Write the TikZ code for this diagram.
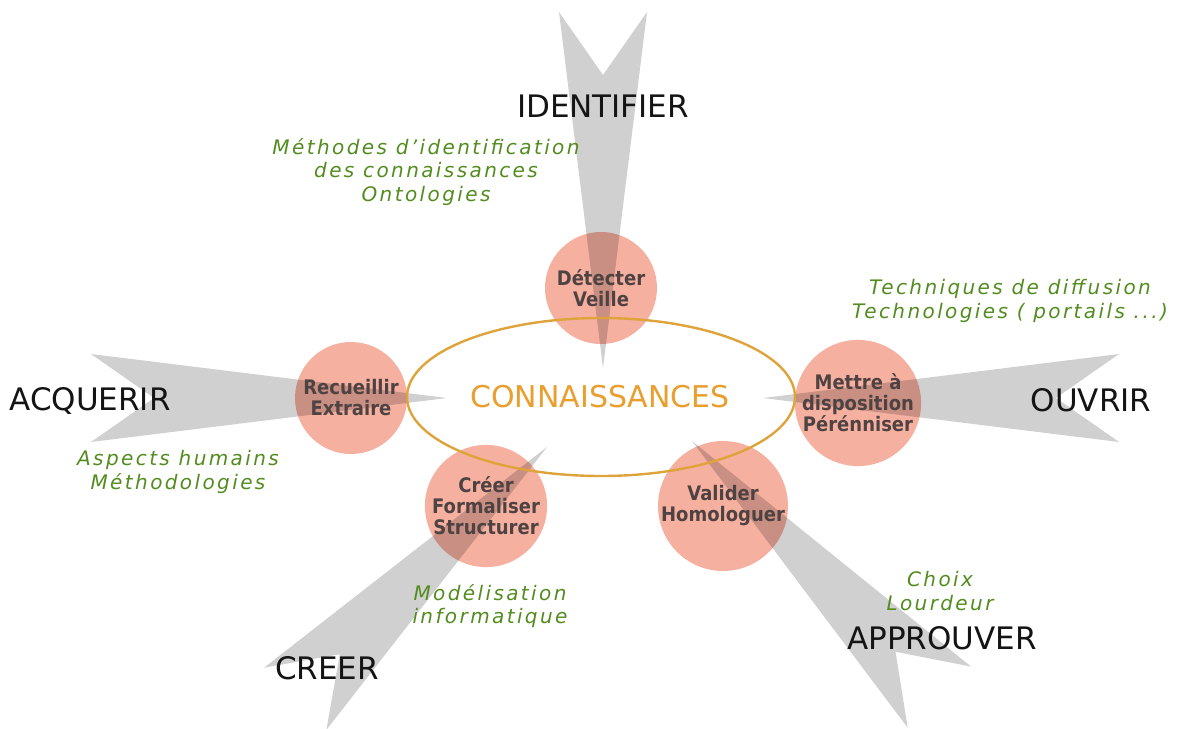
\documentclass[tikz,border=0pt]{standalone}
\usepackage{fontspec}
\setmainfont{DejaVu Sans}
\newfontfamily\notefont[LetterSpace=12]{DejaVu Sans}
\newfontfamily\cerclefont[FakeStretch=0.9]{DejaVu Sans}

\definecolor{saumon}{RGB}{246,176,160}
\definecolor{gris}{RGB}{208,208,208}
\definecolor{orsombre}{RGB}{222,163,58}
\definecolor{orconn}{RGB}{233,158,45}
\definecolor{vertnote}{RGB}{82,140,30}
\definecolor{brun}{RGB}{78,66,66}
\definecolor{encre}{RGB}{20,20,20}

\tikzset{every picture/.style={line width=0.75pt},
  fleche/.style={fill=gris, draw=none},
  bulle/.style={circle, preaction={fill=saumon, blend mode=multiply}, minimum size=84pt, inner sep=0pt,
    text=brun, align=center, font=\cerclefont\bfseries\fontsize{15}{15.75}\selectfont},
  verbe/.style={text=encre, anchor=base, inner sep=0.75pt, font=\fontsize{23.25}{26}\selectfont},
  conn/.style={anchor=base, inner sep=0.75pt, text=orconn, font=\fontsize{22.5}{26}\selectfont},
  note/.style={text=vertnote, align=center, inner sep=0.75pt, font=\notefont\itshape\fontsize{15}{17.5}\selectfont}}

\begin{document}
\begin{tikzpicture}[x=0.75pt,y=0.75pt,yscale=-1]
\useasboundingbox (0,0) rectangle (1187,728);

%Shape: Arrows
\foreach \tipx/\tipy/\ang in {603/368/-90, 447/398/180, 763/398/0, 547/447/135, 692/441/46}
  \fill [fleche, shift={(\tipx,\tipy)}, rotate=\ang] (0,0) -- (356,-44) -- (293,0) -- (356,44) -- cycle ;

%Shape: Circle
\node [bulle] (detecter) at (601,288) {Détecter\\Veille};
%Shape: Circle
\node [bulle] (recueillir) at (351,398) {Recueillir\\Extraire};
%Shape: Circle
\node [bulle] (mettre) at (858,403) {Mettre à\\disposition\\Pérénniser};
%Shape: Circle
\node [bulle] (creer) at (486,506) {Créer\\Formaliser\\Structurer};
%Shape: Circle
\node [bulle] (valider) at (723,506) {Valider\\Homologuer};

%Shape: Ellipse
\draw [draw=orsombre, line width=1.8pt] (601,397) ellipse [x radius=194, y radius=79];

% Text Node
\node [conn] (connaissances) at (600,407) {CONNAISSANCES};

% Text Node
\node [verbe] (identifier) at (603,117) {IDENTIFIER};
% Text Node
\node [verbe] (acquerir) at (90,410) {ACQUERIR};
% Text Node
\node [verbe] (ouvrir) at (1091,411) {OUVRIR};
% Text Node
\node [verbe] (approuver) at (942,649) {APPROUVER};
% Text Node
\node [verbe] (creerlbl) at (327,679) {CREER};

% Text Node
\node [note] (noteident) at (426,172) {Méthodes d’identification\\des connaissances\\Ontologies};
% Text Node
\node [note] (noteouvrir) at (1010,301) {Techniques de diffusion\\Technologies ( portails ...)};
% Text Node
\node [note] (noteacq) at (178,472) {Aspects humains\\Méthodologies};
% Text Node
\node [note] (notecreer) at (490,606) {Modélisation\\informatique};
% Text Node
\node [note] (noteappr) at (940,591) {Choix\\Lourdeur};

\end{tikzpicture}
\end{document}
